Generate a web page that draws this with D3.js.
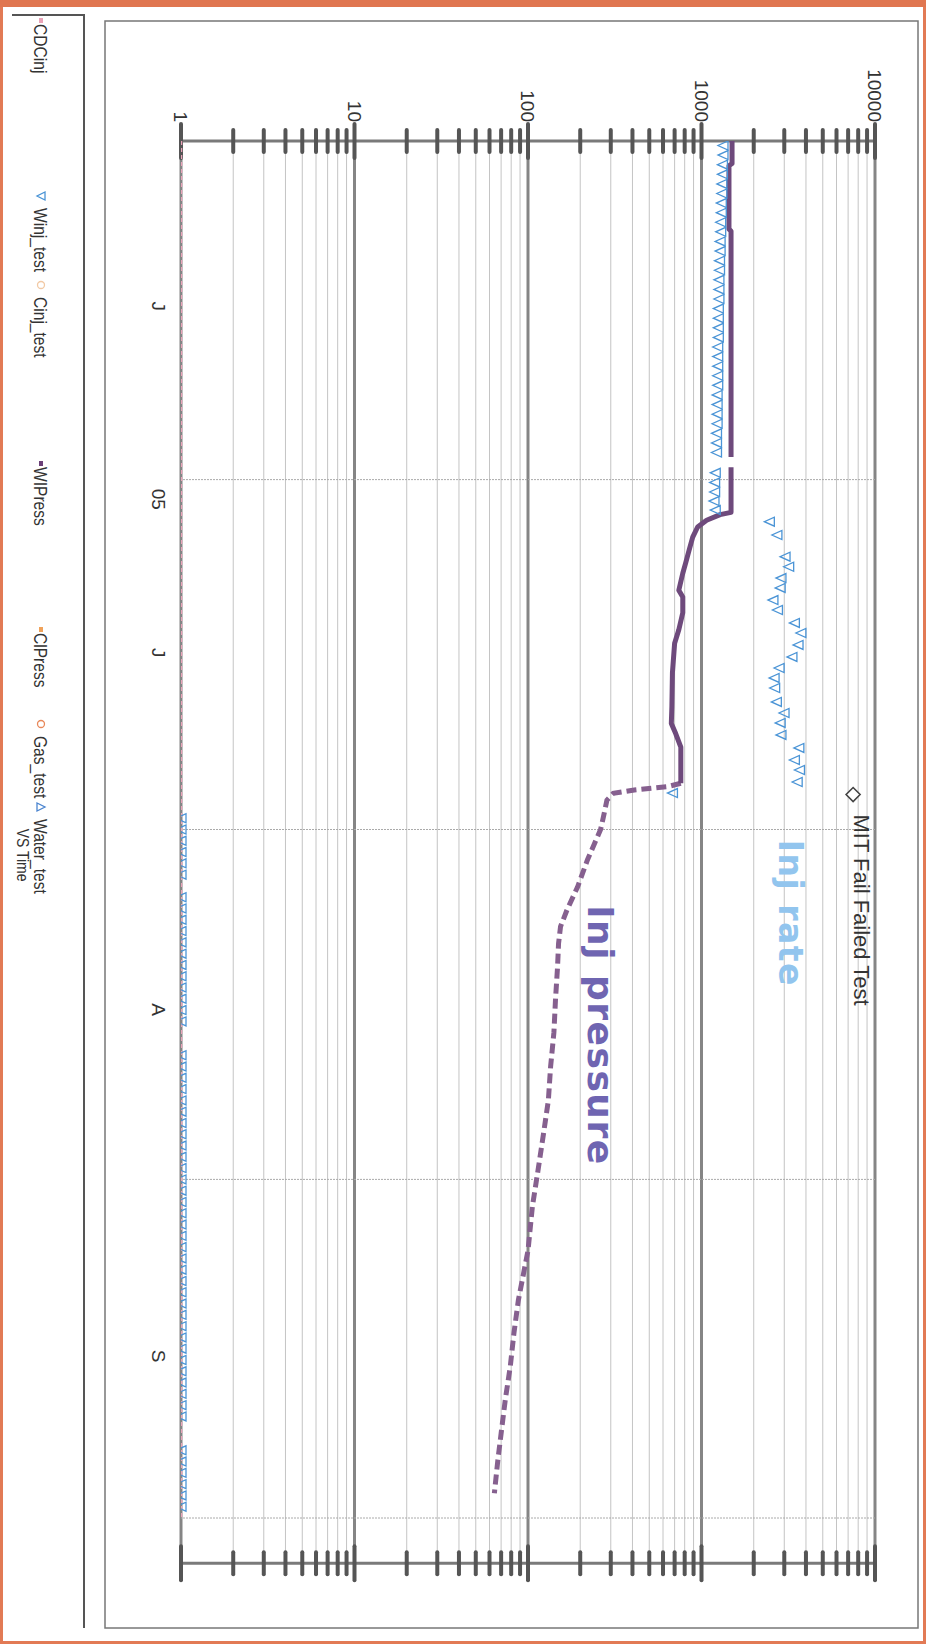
<!DOCTYPE html>
<html>
<head>
<meta charset="utf-8">
<script src="https://cdn.jsdelivr.net/npm/d3@7"></script>
<style>
  body { margin: 0; background: #fff; }
  svg { display: block; }
  .lbl { font-family: "Liberation Sans", Arial, sans-serif; fill: #333; }
</style>
</head>
<body>
<div id="chart"></div>
<script>
const W = 926;
const H = 1644;

// time is kept as days after 1 June 2005
const startDate = new Date(2005, 5, 1);
const endDay = 126;

// WIPress, measured (solid), null = missing reading
const wiDays = [0, 2, 2.2, 7.8, 8, 28, 28.5, 28.9, 32.9, 33.1, 33.6, 34.2, 35.1, 36.2, 37.4, 38.3, 39.8, 40.4, 41.8, 43.3, 44.5, 47.1, 50.1, 51.6, 52.5, 53.7, 56.9];
const wiValues = [1500, 1500, 1440, 1440, 1480, 1480, null, 1480, 1480, 1280, 1070, 950, 890, 850, 810, 780, 740, 780, 780, 740, 700, 680, 675, 670, 710, 760, 760];

// WIPress, projected (dashed)
const projDays = [56.9, 57.2, 57.5, 57.8, 58.4, 59.9, 61.0, 63.7, 66.1, 68.1, 69.6, 71.1, 73.2, 76.1, 79.0, 82.0, 85.0, 87.9, 90.9, 94.4, 98.3, 102.7, 105.6, 108.6, 111.5, 114.5, 116.9, 119.8];
const projValues = [760, 640, 410, 310, 285, 272, 262, 220, 193, 168, 154, 150, 148, 144, 141, 135, 131, 123, 115, 106, 100, 88, 83, 79, 74, 70, 67, 64];

// Winj_test
const rateDays = [0.4, 1.25, 2.1, 2.95, 3.8, 4.65, 5.5, 6.35, 7.2, 8.05, 8.9, 9.75, 10.6, 11.45, 12.3, 13.15, 14.0, 14.85, 15.7, 16.55, 17.4, 18.25, 19.1, 19.95, 20.8, 21.65, 22.5, 23.35, 24.2, 25.05, 25.9, 26.75, 27.6,
  29.4, 30.25, 31.1, 31.9, 32.7,
  33.73, 34.91, 36.83, 37.72, 38.72, 39.6, 40.67, 41.55, 42.7, 43.59, 44.65, 45.71, 46.69, 47.57, 48.46, 49.7, 50.68, 51.56, 52.62, 53.77, 54.84, 55.73, 56.79, 57.77];
const rateValues = [1330, 1330, 1320, 1320, 1310, 1310, 1300, 1300, 1290, 1290, 1280, 1280, 1270, 1270, 1260, 1260, 1260, 1250, 1250, 1250, 1250, 1240, 1240, 1240, 1240, 1240, 1230, 1230, 1230, 1230, 1220, 1220, 1220,
  1200, 1190, 1190, 1180, 1200,
  2460, 2720, 3030, 3180, 2870, 2840, 2580, 2740, 3430, 3740, 3600, 3320, 2800, 2620, 2640, 2700, 2990, 2840, 2870, 3640, 3430, 3670, 3560, 680];

// Winj_test readings sitting on the bottom of the scale
const lowDays = [60, 61, 62, 63, 64, 65, 67, 68, 69, 70, 71, 72, 73, 74, 75, 76, 77, 78, 81, 82, 83, 84, 85, 86, 87, 88, 89, 90, 91, 92, 93, 94, 95, 96, 97, 98, 99, 100, 101, 102, 103, 104, 105, 106, 107, 108, 109, 110, 111, 112, 113, 116, 117, 118, 119, 120, 121];
const lowValue = 1;

// CDCinj
const cdcDays = [0, 122];
const cdcValues = [1, 1];

// MIT marker
const mitDays = [57.9];
const mitValues = [7480];
const mitLabel = "MIT Fail Failed Test";

// annotations
const noteTexts = ["Inj rate", "Inj pressure"];
const noteDays = [61.9, 67.7];
const noteValues = [2800, 221];
const noteColors = ["#92c5ee", "#6f65b1"];
const noteSizes = [33, 36];

// axes
const decades = [1, 10, 100, 1000, 10000];
const gridDays = [30, 61, 92, 122];
const monthDays = [14.6, 31.7, 45.3, 76.9, 107.6];
const monthLabels = ["J", "05", "J", "A", "S"];

// legend
const legendLabels = ["CDCinj", "Winj_test", "Cinj_test", "WIPress", "ClPress", "Gas_test", "Water_test"];
const legendKinds = ["line", "down", "circle", "line", "line", "circle", "up"];
const legendColors = ["#e9a3b8", "#4a94d6", "#f2c9a4", "#6b3f78", "#f0a25a", "#e8885a", "#4a84d0"];
const legendStart = [18, 196, 285, 461, 627, 724, 807];

const toDate = (d) => new Date(startDate.getTime() + d * 864e5);

const svg = d3.select("#chart").append("svg")
  .attr("width", W)
  .attr("height", H)
  .style("background", "#fff");

// outer orange border
svg.append("rect")
  .attr("x", 1.5).attr("y", 1.5)
  .attr("width", W - 3).attr("height", H - 3)
  .attr("fill", "none")
  .attr("stroke", "#e27a55")
  .attr("stroke-width", 3);
svg.append("rect")
  .attr("x", 0).attr("y", 0)
  .attr("width", W).attr("height", 7)
  .attr("fill", "#e07650");

// frames
svg.append("rect")
  .attr("x", 105).attr("y", 21)
  .attr("width", 813).attr("height", 1607)
  .attr("fill", "none")
  .attr("stroke", "#777")
  .attr("stroke-width", 1.5);
svg.append("path")
  .attr("d", "M12,15 H84 V1628")
  .attr("fill", "none")
  .attr("stroke", "#555")
  .attr("stroke-width", 2);

// whole chart is drawn turned by 90 degrees: u -> screen y, v -> W - screen x
const g = svg.append("g").attr("transform", `translate(${W},0) rotate(90)`);

const x = d3.scaleTime()
  .domain([startDate, toDate(endDay)])
  .range([141, 141 + endDay * 11.287]);

const y = d3.scaleLog()
  .domain([1, 10000])
  .range([W - 181, W - 875]);

const u0 = x.range()[0];
const u1 = x.range()[1];

g.append("clipPath").attr("id", "plot-clip")
  .append("rect")
  .attr("x", u0).attr("y", y(10000))
  .attr("width", u1 - u0).attr("height", y(1) - y(10000));

// log gridlines
const logTicks = y.ticks();
const isDecade = (t) => Math.abs(Math.log10(t) - Math.round(Math.log10(t))) < 1e-9;

g.append("g").selectAll("line")
  .data(logTicks)
  .join("line")
  .attr("x1", u0).attr("x2", u1)
  .attr("y1", (d) => y(d)).attr("y2", (d) => y(d))
  .attr("stroke", (d) => (isDecade(d) ? "#858585" : "#c4c4c4"))
  .attr("stroke-width", (d) => (isDecade(d) ? 3 : 1));

// time gridlines
g.append("g").selectAll("line")
  .data(gridDays)
  .join("line")
  .attr("x1", (d) => x(toDate(d))).attr("x2", (d) => x(toDate(d)))
  .attr("y1", y(10000)).attr("y2", y(1))
  .attr("stroke", "#aaa")
  .attr("stroke-width", 1)
  .attr("stroke-dasharray", "2,1");

// both value axes (top and bottom on screen)
[u0, u1].forEach((u) => {
  g.append("line")
    .attr("x1", u).attr("x2", u)
    .attr("y1", y(1)).attr("y2", y(10000))
    .attr("stroke", "#7a7a7a")
    .attr("stroke-width", 3);
  g.append("g").selectAll("line")
    .data(logTicks)
    .join("line")
    .attr("x1", (d) => u - (isDecade(d) ? 17 : 11))
    .attr("x2", (d) => u + (isDecade(d) ? 17 : 11))
    .attr("y1", (d) => y(d)).attr("y2", (d) => y(d))
    .attr("stroke", "#555")
    .attr("stroke-width", 4)
    .attr("stroke-linecap", "round");
});

const yAxis = d3.axisLeft(y)
  .tickValues(decades)
  .tickFormat(d3.format("d"))
  .tickSize(0)
  .tickPadding(19);

g.append("g")
  .attr("transform", `translate(${u0},0)`)
  .call(yAxis)
  .call((s) => s.select(".domain").remove())
  .selectAll("text")
  .attr("class", "lbl")
  .style("font-size", "19px")
  .attr("fill", "#333");

const xAxis = d3.axisBottom(x)
  .tickValues(monthDays.map(toDate))
  .tickFormat((d, i) => monthLabels[i])
  .tickSize(0)
  .tickPadding(16);

g.append("g")
  .attr("transform", `translate(0,${y(1)})`)
  .call(xAxis)
  .call((s) => s.select(".domain").remove())
  .selectAll("text")
  .attr("class", "lbl")
  .style("font-size", "19px")
  .attr("fill", "#333");

// data layer
const plot = g.append("g").attr("clip-path", "url(#plot-clip)");

const line = d3.line()
  .defined((d) => d[1] != null)
  .x((d) => x(toDate(d[0])))
  .y((d) => y(d[1]));

plot.append("path")
  .datum(cdcDays.map((d, i) => [d, cdcValues[i]]))
  .attr("d", line)
  .attr("fill", "none")
  .attr("stroke", "#e9a3b8")
  .attr("stroke-width", 2.5)
  .attr("stroke-dasharray", "4,3");

const tri = "M-4.5,-5L4.5,-5L0,5Z";

plot.append("g").selectAll("path")
  .data(lowDays)
  .join("path")
  .attr("d", tri)
  .attr("transform", (d) => `translate(${x(toDate(d))},${y(lowValue)})`)
  .attr("fill", "none")
  .attr("stroke", "#4a94d6")
  .attr("stroke-width", 1.3);

plot.append("path")
  .datum(projDays.map((d, i) => [d, projValues[i]]))
  .attr("d", line)
  .attr("fill", "none")
  .attr("stroke", "#86608f")
  .attr("stroke-width", 5)
  .attr("stroke-dasharray", "10,5");

plot.append("path")
  .datum(wiDays.map((d, i) => [d, wiValues[i]]))
  .attr("d", line)
  .attr("fill", "none")
  .attr("stroke", "#6e4a7c")
  .attr("stroke-width", 5)
  .attr("stroke-linejoin", "round");

plot.append("g").selectAll("path")
  .data(rateDays.map((d, i) => [d, rateValues[i]]))
  .join("path")
  .attr("d", tri)
  .attr("transform", (d) => `translate(${x(toDate(d[0]))},${y(d[1])})`)
  .attr("fill", "none")
  .attr("stroke", "#4a94d6")
  .attr("stroke-width", 1.3);

// MIT marker
mitDays.forEach((d, i) => {
  const mu = x(toDate(d));
  const mv = y(mitValues[i]);
  g.append("path")
    .attr("d", "M0,-7L7,0L0,7L-7,0Z")
    .attr("transform", `translate(${mu},${mv})`)
    .attr("fill", "#fff")
    .attr("stroke", "#444")
    .attr("stroke-width", 1.6);
  g.append("text")
    .attr("class", "lbl")
    .attr("x", mu + 20)
    .attr("y", mv - 1)
    .style("font-size", "22px")
    .attr("fill", "#333")
    .text(mitLabel);
});

// annotations
noteTexts.forEach((t, i) => {
  g.append("text")
    .attr("x", x(toDate(noteDays[i])))
    .attr("y", y(noteValues[i]))
    .style("font-family", "'DejaVu Sans', Verdana, sans-serif")
    .style("font-weight", "bold")
    .style("font-size", noteSizes[i] + "px")
    .style("letter-spacing", "1.5px")
    .attr("fill", noteColors[i])
    .text(t);
});

// narrow look of the legend font
const narrow = (sel, k) => {
  const w = sel.node().getComputedTextLength();
  sel.attr("textLength", w * k).attr("lengthAdjust", "spacingAndGlyphs");
};

// legend
const lv = W - 34;
const leg = g.append("g");
legendLabels.forEach((name, i) => {
  const u = legendStart[i];
  const c = legendColors[i];
  const cv = lv - 7;
  let tu = u + 6;
  if (legendKinds[i] === "line") {
    leg.append("line")
      .attr("x1", u).attr("x2", u + 5)
      .attr("y1", cv).attr("y2", cv)
      .attr("stroke", c).attr("stroke-width", 4);
  } else if (legendKinds[i] === "circle") {
    leg.append("circle")
      .attr("cx", u).attr("cy", cv).attr("r", 3.5)
      .attr("fill", "none").attr("stroke", c).attr("stroke-width", 1.3);
    tu = u + 12;
  } else {
    leg.append("path")
      .attr("d", legendKinds[i] === "down" ? "M-4,-4L4,-4L0,4Z" : "M-4,4L4,4L0,-4Z")
      .attr("transform", `translate(${u},${cv})`)
      .attr("fill", "none").attr("stroke", c).attr("stroke-width", 1.3);
    tu = u + 12;
  }
  leg.append("text")
    .attr("class", "lbl")
    .attr("x", tu)
    .attr("y", lv)
    .style("font-size", "19px")
    .attr("fill", "#333")
    .text(name)
    .call(narrow, 0.82);
});

leg.append("text")
  .attr("class", "lbl")
  .attr("x", (u0 + u1) / 2 + 3)
  .attr("y", W - 17)
  .attr("text-anchor", "middle")
  .style("font-size", "17px")
  .attr("fill", "#333")
  .text("VS Time")
  .call(narrow, 0.82);
</script>
</body>
</html>
